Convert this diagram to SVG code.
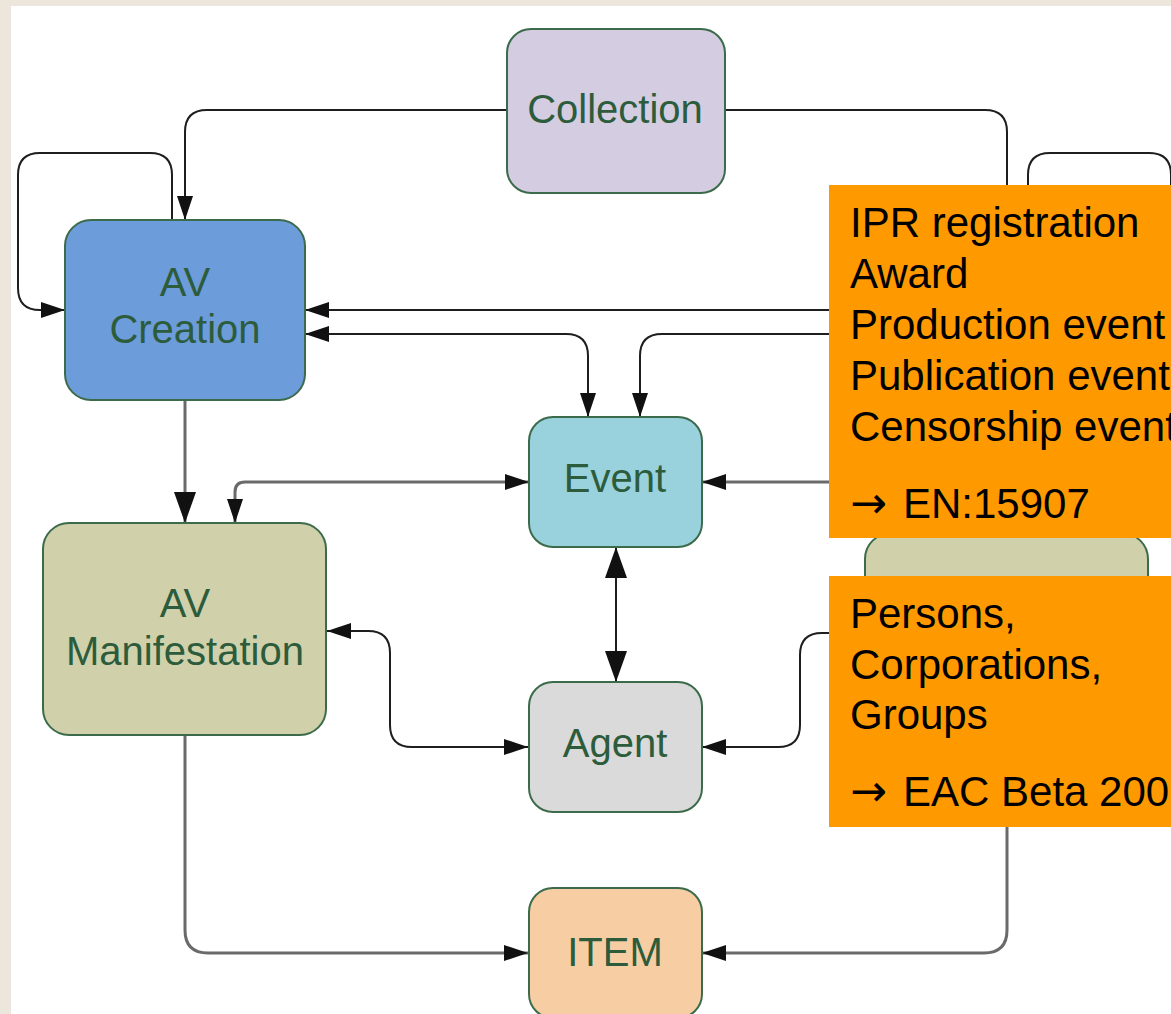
<svg xmlns="http://www.w3.org/2000/svg" width="1171" height="1014" viewBox="0 0 1171 1014">
<style>
.bg{fill:#ece6dc}
.node rect{stroke:#3b6b4a;stroke-width:2}
.node text{font-family:"Liberation Sans",Arial,sans-serif;font-size:40px;fill:#2c5c3c;text-anchor:middle}
.c{fill:none;stroke:#1e1e1e;stroke-width:2}
.g{fill:none;stroke:#6a6a6a;stroke-width:3}
.note rect{fill:#ff9900}
.note text{font-family:"Liberation Sans",Arial,sans-serif;font-size:42px;fill:#000}
.note .arr{font-family:"DejaVu Sans",sans-serif;font-size:44px}
</style>
<defs>
<marker id="ah" markerUnits="userSpaceOnUse" markerWidth="24" markerHeight="16" refX="24" refY="8" orient="auto-start-reverse"><path d="M0,0 L24,8 L0,16 z" fill="#111"/></marker>
<marker id="ab" markerUnits="userSpaceOnUse" markerWidth="31" markerHeight="22" refX="31" refY="11" orient="auto-start-reverse"><path d="M0,0 L31,11 L0,22 z" fill="#111"/></marker>
</defs>
<rect x="0" y="0" width="1171" height="1014" fill="#ffffff"/>
<rect class="bg" x="0" y="0" width="1171" height="6"/>
<rect class="bg" x="0" y="0" width="11" height="1014"/>

<g id="connectors">
<path class="c" d="M507,110 H207 Q185,110 185,132 V220" marker-end="url(#ah)"/>
<path class="c" d="M172,220 V175 Q172,153 150,153 H40 Q18,153 18,175 V288 Q18,310 40,310 H65" marker-end="url(#ah)"/>
<path class="c" d="M725,110 H985 Q1007,110 1007,132 V540"/>
<path class="c" d="M1028,540 V175 Q1028,153 1050,153 H1149 Q1171,153 1171,175 V220"/>
<path class="c" d="M900,310 H305" marker-end="url(#ah)"/>
<path class="c" d="M305,334 H566 Q588,334 588,356 V417" marker-start="url(#ah)" marker-end="url(#ah)"/>
<path class="c" d="M900,334 H662 Q640,334 640,356 V417" marker-end="url(#ah)"/>
<path class="g" d="M900,482 H702" marker-end="url(#ah)"/>
<path class="g" d="M529,482 H245 Q235,482 235,492 V523" marker-start="url(#ah)" marker-end="url(#ah)"/>
<path class="g" d="M185,400 V523" marker-end="url(#ab)"/>
<path class="c" d="M616,547 V682" marker-start="url(#ab)" marker-end="url(#ab)"/>
<path class="c" d="M327,631 H368 Q390,631 390,653 V725 Q390,747 412,747 H528" marker-start="url(#ah)" marker-end="url(#ah)"/>
<path class="c" d="M860,633 H822 Q800,633 800,655 V725 Q800,747 778,747 H702" marker-end="url(#ah)"/>
<path class="g" d="M185,735 V930 Q185,953 208,953 H528" marker-end="url(#ah)"/>
<path class="g" d="M1007,800 V930 Q1007,953 984,953 H702" marker-end="url(#ah)"/>
</g>

<g id="collection" class="node">
<rect x="507" y="29" width="218" height="164" rx="24" fill="#d4cce1"/>
<text x="615" y="123">Collection</text>
</g>
<g id="av-creation" class="node">
<rect x="65" y="220" width="240" height="180" rx="26" fill="#6d9cdb"/>
<text x="185" y="296">AV</text>
<text x="185" y="343">Creation</text>
</g>
<g id="event" class="node">
<rect x="529" y="417" width="173" height="130" rx="24" fill="#99d1dd"/>
<text x="615" y="492">Event</text>
</g>
<g id="av-manifestation" class="node">
<rect x="43" y="523" width="283" height="212" rx="26" fill="#d0d1aa"/>
<text x="185" y="617">AV</text>
<text x="185" y="665">Manifestation</text>
</g>
<g id="agent" class="node">
<rect x="529" y="682" width="173" height="130" rx="24" fill="#dadadb"/>
<text x="615" y="757">Agent</text>
</g>
<g id="item" class="node">
<rect x="529" y="888" width="173" height="130" rx="24" fill="#f7cea4"/>
<text x="615" y="966">ITEM</text>
</g>
<g id="hidden-node" class="node">
<rect x="865" y="533" width="283" height="120" rx="26" fill="#d0d1aa"/>
</g>

<g id="note-events" class="note">
<rect x="829" y="185" width="342" height="353"/>
<text x="850" y="237">IPR registration</text>
<text x="850" y="288">Award</text>
<text x="850" y="339">Production event</text>
<text x="850" y="390">Publication event</text>
<text x="850" y="441">Censorship event</text>
<text x="850" y="518"><tspan class="arr">→</tspan><tspan x="903">EN:15907</tspan></text>
</g>
<g id="note-agents" class="note">
<rect x="829" y="576" width="342" height="251"/>
<text x="850" y="628">Persons,</text>
<text x="850" y="679">Corporations,</text>
<text x="850" y="729">Groups</text>
<text x="850" y="806"><tspan class="arr">→</tspan><tspan x="903">EAC Beta 200</tspan></text>
</g>
</svg>
